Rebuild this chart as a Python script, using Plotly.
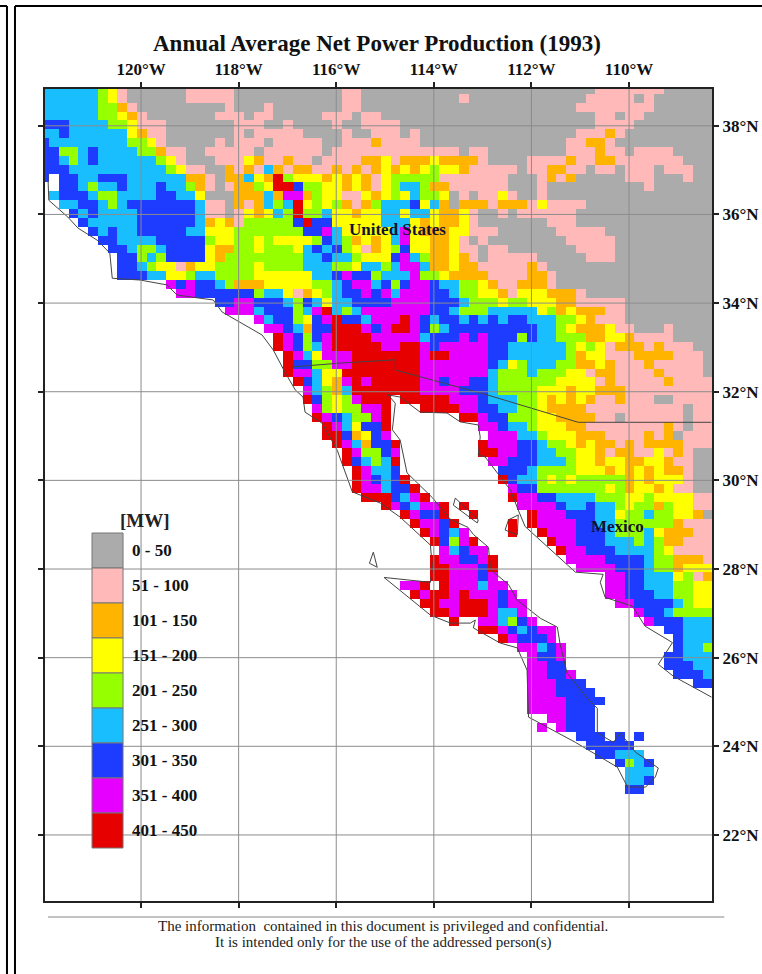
import plotly.graph_objects as go

# Power classes
class_labels = ["0 - 50", "51 - 100", "101 - 150", "151 - 200", "201 - 250",
                "251 - 300", "301 - 350", "351 - 400", "401 - 450"]
class_colors = ["#ABABAB", "#FFB9B9", "#FFB400", "#FFFF00", "#96FF00",
                "#19BEFF", "#1E3CFF", "#E600FF", "#E60000"]

# Each row: class:last column of that run ('.' = no data)
grid_rows = """
5:5 4:6 3:7 1:8 0:14 1:19 0:30 1:32 0:56 1:63 0:68
5:5 4:6 3:7 1:8 0:14 1:19 0:30 1:32 0:42 1:43 0:55 1:60 0:61 1:62 0:68
5:5 4:7 2:8 1:9 0:18 1:19 0:22 1:23 0:30 1:32 0:54 1:62 0:68
5:5 4:7 3:8 2:9 1:10 0:17 1:20 0:21 1:23 0:28 1:31 0:32 1:34 0:56 1:58 0:59 1:61 0:68
6:2 5:6 4:8 3:9 1:12 0:19 1:22 0:24 1:25 0:29 1:30 0:32 1:36 0:56 1:60 0:68
5:1 6:2 5:8 3:9 2:10 1:12 0:19 1:20 0:21 1:26 0:30 1:31 0:33 1:36 0:37 1:38 0:54 1:57 2:58 1:59 0:68
6:0 5:8 4:10 3:11 1:12 0:17 1:18 0:19 1:22 0:23 1:28 0:30 1:33 2:34 1:38 0:53 1:55 2:57 1:58 0:68
6:1 4:3 5:4 6:5 5:9 4:11 2:12 1:14 0:16 1:21 0:22 1:28 0:29 1:42 0:43 1:45 0:53 1:56 2:57 1:59 0:60 1:64 0:68
6:1 5:2 4:3 5:4 6:5 5:11 4:12 3:13 1:14 0:17 1:20 3:21 2:22 1:24 2:25 1:27 0:28 1:32 2:34 3:35 1:36 2:39 3:40 2:44 1:45 0:49 1:53 2:54 1:56 2:58 1:65 0:68
6:2 5:12 4:13 3:14 1:16 0:18 2:19 1:20 2:21 1:22 5:23 2:24 1:25 2:27 1:29 2:30 1:31 2:32 1:33 2:34 3:35 2:36 3:37 2:38 3:39 4:40 3:42 2:43 1:48 0:49 1:51 2:53 1:55 0:56 1:58 0:59 1:62 0:63 1:66 0:68
6:0 .:1 6:3 5:5 6:8 5:14 2:16 1:17 0:18 2:20 5:21 3:22 2:23 8:24 4:25 3:28 2:29 3:30 2:31 3:32 2:33 1:34 3:35 4:40 1:47 0:50 1:51 2:52 1:53 2:54 0:59 1:62 0:65 1:66 0:68
.:1 6:3 5:4 4:5 5:7 6:8 5:11 6:12 5:14 4:15 2:16 1:17 0:18 1:19 2:21 4:22 3:23 8:25 6:26 4:28 3:30 2:31 3:32 2:33 1:34 3:35 4:36 5:38 4:39 2:41 1:47 0:50 1:51 0:61 1:62 0:68
.:0 5:1 6:4 5:5 4:7 5:11 6:13 5:15 3:16 0:19 2:22 5:23 2:24 7:26 2:27 4:28 3:30 1:32 3:33 2:34 3:35 4:36 3:37 5:38 4:40 3:41 0:42 1:43 0:44 1:46 3:47 1:48 0:50 1:51 0:68
.:1 5:3 6:5 5:6 4:7 5:8 6:15 5:16 1:18 0:19 2:20 1:21 2:22 5:23 4:24 5:25 8:26 3:27 4:28 3:29 4:30 2:31 1:32 2:33 4:34 5:37 6:38 3:39 5:40 2:41 0:42 2:45 1:46 2:49 1:50 3:51 1:55 0:68
.:2 6:3 5:4 6:5 5:9 6:15 5:16 1:18 0:19 1:20 3:21 2:22 3:23 5:24 4:25 8:26 4:28 5:29 3:31 2:32 3:34 5:36 3:37 5:39 3:40 2:42 3:43 1:44 0:46 1:47 0:48 1:54 0:68
.:3 6:4 5:9 6:15 5:16 2:17 3:18 2:19 1:20 4:25 6:26 8:27 6:29 3:34 5:37 3:38 2:39 3:40 2:42 3:43 1:44 0:51 1:54 0:68
.:4 6:5 5:6 6:7 5:9 6:14 5:16 3:19 4:26 6:28 7:29 5:30 3:35 5:36 7:37 3:38 2:41 3:43 1:46 0:52 1:57 0:68
.:5 6:7 5:11 6:16 4:17 3:19 4:21 3:22 4:23 3:27 4:28 6:29 5:30 4:31 2:32 3:33 2:34 3:35 5:36 7:37 3:39 2:41 3:42 1:43 0:44 1:45 0:53 1:58 0:68
.:6 6:8 5:9 4:11 5:12 6:16 3:17 2:19 4:21 3:22 4:25 3:26 5:27 6:28 5:29 6:30 4:31 3:32 1:33 2:34 3:35 4:36 6:37 3:39 2:41 3:42 1:44 0:45 1:47 0:54 1:58 0:68
.:7 6:9 4:10 5:11 4:12 6:16 3:17 2:18 4:26 5:28 6:29 5:31 4:32 3:35 6:36 7:37 5:38 4:39 2:41 3:42 2:43 1:44 0:45 1:50 0:55 1:58 0:68
.:7 6:9 5:10 4:11 3:13 1:14 2:15 3:17 4:21 3:22 4:26 5:29 4:31 3:32 5:34 4:35 5:36 7:38 5:39 2:41 3:42 2:44 1:49 2:50 1:51 0:68
.:7 6:10 5:12 3:14 4:15 5:17 4:21 3:27 5:29 6:30 7:31 6:33 4:34 5:37 7:38 4:40 3:41 2:45 1:49 2:51 1:52 0:68
.:12 7:13 6:14 7:15 6:17 5:18 4:19 2:22 3:27 4:29 5:30 6:31 7:33 5:34 6:35 4:36 6:37 7:39 6:40 5:42 4:44 3:45 2:46 1:48 2:51 1:52 0:68
.:13 7:15 6:21 4:22 5:24 3:25 1:26 2:27 3:28 4:29 5:30 6:32 7:33 6:34 7:35 5:36 7:39 6:41 5:42 4:44 3:46 2:47 1:48 3:51 2:54 1:55 0:68
.:17 6:19 7:21 6:24 5:25 4:26 6:27 5:28 3:29 5:31 6:35 7:39 6:42 5:43 4:46 3:47 4:49 3:52 2:54 1:59 0:68
.:18 7:21 5:22 6:25 4:26 5:27 7:28 8:29 5:30 4:31 5:32 7:39 6:41 5:42 4:45 5:50 3:51 4:52 2:53 3:54 2:57 1:59 0:68
.:21 7:22 5:23 6:25 4:26 3:27 6:28 7:29 8:30 6:32 5:33 7:36 8:37 7:38 6:39 5:40 6:42 5:43 6:44 5:45 6:46 5:47 6:49 5:52 4:54 3:55 2:56 1:59 0:68
.:22 7:24 6:25 5:26 2:27 6:29 8:32 7:33 6:34 7:35 8:37 7:38 6:39 4:40 5:41 6:50 5:52 4:53 3:54 2:57 3:58 1:60 0:63 1:64 0:68
.:23 8:24 7:25 6:26 4:27 6:28 7:29 8:33 7:38 5:39 6:42 7:43 6:44 7:45 6:48 4:49 6:50 5:52 4:55 2:57 3:59 2:60 1:64 0:68
.:23 8:24 7:25 6:26 4:27 5:28 7:29 8:34 7:36 8:38 7:39 6:40 7:45 6:47 5:53 4:54 3:55 4:56 3:57 1:58 2:61 1:62 2:63 1:66 0:68
.:24 8:25 7:26 5:27 3:28 7:31 8:38 7:39 8:41 7:45 6:47 5:53 4:54 2:55 3:57 1:60 2:64 1:67 0:68
.:24 8:25 6:27 4:29 7:31 8:38 7:45 6:46 5:47 3:48 4:49 5:52 4:54 2:56 3:57 2:58 1:61 2:62 1:67 0:68
.:24 8:25 7:27 5:28 3:30 8:38 7:45 5:46 4:49 5:50 4:53 3:55 1:56 2:58 1:62 2:63 1:67 0:68
.:25 8:26 6:27 5:28 3:29 2:30 7:31 8:32 7:33 8:38 7:40 6:41 7:43 6:45 5:46 4:52 3:56 1:57 2:58 1:63 2:64 1:68
.:26 7:27 5:28 4:29 2:30 5:31 8:38 7:42 6:45 5:46 4:50 3:53 2:54 3:56 2:59 1:68
.:26 8:27 6:28 4:29 3:30 4:31 7:32 8:35 .:36 8:41 7:44 6:45 5:48 4:50 3:51 2:52 3:53 2:54 3:55 2:56 1:58 2:59 1:62 0:64 1:68
.:27 7:28 4:29 3:30 4:32 7:34 8:35 .:38 8:42 7:44 6:46 5:48 4:50 3:51 2:55 1:65 0:66 1:68
.:27 8:28 7:29 6:30 5:31 4:33 7:34 8:35 .:42 8:44 7:45 6:47 4:50 3:52 2:56 1:58 0:59 1:65 0:66 1:68
.:28 8:29 7:30 5:31 3:32 6:34 8:35 .:44 7:46 6:47 5:49 4:50 3:53 2:55 1:63 2:64 1:65 0:66 1:68
.:28 8:30 6:31 2:32 3:33 6:34 7:35 .:45 7:48 5:50 4:51 3:54 2:57 1:61 2:62 1:63 2:64 0:65 1:68
.:29 8:30 7:31 5:32 2:33 6:35 8:36 .:44 8:45 7:48 6:50 5:51 4:53 3:54 2:55 3:56 2:58 1:59 2:60 1:61 2:65 1:68
.:30 8:31 7:32 4:34 6:35 7:36 .:44 8:46 7:48 6:50 5:52 4:54 3:56 2:57 1:58 2:60 1:62 3:63 1:64 2:65 1:66 0:68
.:30 8:31 6:32 5:33 4:34 5:35 8:36 .:45 7:47 6:50 5:53 4:54 3:56 2:57 3:59 2:61 3:63 2:64 1:66 0:68
.:31 8:32 7:33 5:35 6:36 .:46 6:49 5:50 4:54 3:57 2:58 3:59 2:60 3:61 2:62 3:63 2:65 1:66 0:68
.:31 8:32 7:33 6:34 5:35 6:36 8:37 .:46 8:47 6:48 5:50 4:51 3:52 4:53 3:54 4:59 2:60 3:61 2:62 3:65 1:66 0:68
.:31 8:32 7:34 5:35 6:37 8:38 .:47 7:48 6:50 4:57 3:58 4:59 2:60 3:62 2:63 3:64 1:66 0:68
.:32 8:35 6:36 5:37 7:38 8:39 .:47 8:48 7:50 6:52 5:56 4:59 3:61 4:62 3:66 1:68
.:34 8:35 7:36 6:37 5:38 7:40 8:41 .:42 8:43 .:48 7:52 6:53 5:55 6:56 5:58 4:59 3:60 4:62 2:63 4:64 3:66 1:68
.:36 8:37 7:38 6:40 8:41 .:43 8:44 .:49 8:50 7:53 6:56 5:58 3:59 4:61 5:62 4:64 3:66 2:67 0:68
.:37 8:38 7:40 6:41 8:42 .:47 8:48 .:49 8:50 7:54 6:56 5:58 4:64 2:65 1:68
.:38 8:39 7:40 6:41 5:42 7:43 .:47 8:48 .:50 8:51 7:54 6:57 5:58 4:61 5:62 3:63 2:66 1:68
.:39 8:40 6:41 4:42 7:43 8:44 .:51 8:52 7:54 6:57 5:60 4:61 5:62 4:63 2:65 1:68
.:40 7:41 5:42 6:43 7:45 .:52 8:53 7:55 6:58 5:62 4:63 3:64 1:68
.:39 8:40 7:42 6:44 7:45 8:46 .:53 7:57 6:61 5:62 4:64 2:67 1:68
.:39 8:41 7:44 6:45 8:46 .:54 7:58 6:61 5:62 4:64 2:65 3:68
.:39 8:41 7:44 6:45 7:46 .:57 7:59 6:61 5:64 3:65 4:66 1:67 2:68
.:36 7:38 8:39 .:40 8:41 7:44 5:45 7:47 .:57 7:59 6:61 5:64 4:66 3:68
.:37 8:38 7:39 8:41 7:42 8:43 7:46 6:47 7:48 .:57 7:59 6:62 5:64 4:66 3:68
.:38 8:40 7:42 8:45 7:46 6:47 7:49 .:58 7:60 6:64 5:65 4:66 3:68
.:39 8:41 7:42 8:45 7:46 5:48 7:49 .:60 7:61 6:63 5:64 4:68
.:41 8:42 .:44 7:46 5:47 4:48 6:49 7:50 .:61 7:62 6:65 5:68
.:44 8:46 7:47 6:48 5:49 6:50 7:52 .:63 6:65 5:68
.:46 8:47 7:48 6:51 7:52 .:64 6:65 5:68
.:48 7:50 5:51 6:52 7:53 .:64 6:65 5:67 4:68
.:49 7:50 6:52 7:53 .:63 6:65 5:68
.:49 7:51 6:53 .:63 6:66 5:68
.:49 7:51 6:53 7:54 .:64 6:67 5:68
.:49 7:52 6:55 .:66 6:68
.:49 7:52 6:56
.:49 7:53 6:57
.:49 7:53 6:56
.:51 7:53 6:56
.:50 7:51 .:52 7:53 6:56
.:54 6:57 .:58 6:59 .:60 6:61
.:55 6:60
.:56 6:58 5:61
.:58 6:59 4:60 5:61 6:62
.:59 5:62
.:59 5:61 6:62
.:59 6:61
""".strip().splitlines()

coast_lon = [-121.91,-121.89,-121.50,-121.29,-120.90,-120.64,-120.59,-120.02,-119.47,-119.26,-118.52,-118.34,
             -117.52,-117.29,-117.05,-116.84,-116.68,-116.64,-116.29,-115.98,-115.67,-115.10,-114.69,-114.07,
             -114.03,-114.07,-115.02,-114.65,-114.07,-113.66,-113.25,-113.15,-113.19,-112.64,-112.29,-112.09,
             -112.06,-111.10,-110.24,-110.03,-109.66,-109.46,-109.40,-109.87,-110.18,-110.32,-110.65,-110.65,
             -110.83,-111.27,-111.41,-111.47,-111.82,-112.29,-112.47,-112.84,-112.88,-113.19,-113.30,-113.66,
             -114.03,-114.55,-114.69,-114.85,-114.79,-114.94,-114.69,-114.28,-113.73,-113.46,-113.09,-113.05,
             -113.09,-112.95,-112.70,-112.43,-112.27,-112.13,-111.10,-110.53,-110.59,-110.49,-109.93,-109.67,
             -109.11,-109.40,-109.09,-108.31]
coast_lat = [36.93,36.32,35.94,35.69,35.42,35.13,34.56,34.52,34.41,34.18,34.07,33.80,
             33.28,32.94,32.44,32.04,31.88,31.54,31.29,30.68,29.74,29.49,29.17,28.54,
             28.02,27.70,27.81,27.48,26.96,26.78,26.78,26.85,26.67,26.33,26.22,25.72,
             24.66,24.09,23.53,23.08,23.08,23.31,23.51,23.87,24.30,24.09,24.30,24.86,
             25.05,25.65,26.29,26.69,26.89,27.30,27.65,27.99,28.49,28.78,28.94,29.12,
             29.61,30.17,30.91,31.14,31.74,31.93,31.88,31.54,31.52,31.32,31.25,30.98,
             30.57,30.53,30.17,29.78,29.33,28.96,27.93,27.88,27.70,27.36,27.16,26.71,
             26.34,25.85,25.58,25.11]
border_lon = [-116.90,-115.86,-114.79,-114.79,-112.91,-111.04,-108.31]
border_lat = [32.56,32.65,32.72,32.49,31.93,31.31,31.31]
island_lons = [[-112.27,-112.47,-112.54,-112.29,-112.27],
               [-113.56,-113.60,-113.11,-113.09,-113.56],
               [-115.32,-115.24,-115.16,-115.32]]
island_lats = [[29.22,29.11,28.88,28.77,29.22],
               [29.60,29.44,29.04,29.11,29.60],
               [28.13,28.38,28.04,28.13]]

lon_ticks = [-120, -118, -116, -114, -112, -110]
lon_labels = ["120°W", "118°W", "116°W", "114°W", "112°W", "110°W"]
lat_ticks = [38, 36, 34, 32, 30, 28, 26, 24, 22]
lat_labels = ["38°N", "36°N", "34°N", "32°N", "30°N", "28°N", "26°N", "24°N", "22°N"]

title_text = "Annual Average Net Power Production (1993)"
footer_lines = ["The information  contained in this document is privileged and confidential.",
                "It is intended only for the use of the addressed person(s)"]

# ---------------------------------------------------------------- decode grid
N_COLS = 69
z = []
for line in grid_rows:
    row = [None] * N_COLS
    start = 0
    for tok in line.split():
        cls, last = tok.split(":")
        last = int(last)
        for c in range(start, last + 1):
            row[c] = None if cls == "." else int(cls)
        start = last + 1
    z.append(row)

W, H = 762, 974
L, R, T, B = 45, 711.7, 89, 901
LON_MIN, LON_MAX = -121.968, -108.30
LAT_MAX, LAT_MIN = 38.83, 20.51
CELL = 0.2
lon0 = LON_MIN + (39.4 + 4.875 - L) / 48.77
lat0 = LAT_MAX - (85 + 4.435 - T) / 44.33

def px(x):
    return (x - L) / (R - L)
def py(y):
    return (B - y) / (B - T)

n = len(class_colors)
colorscale = []
for i, c in enumerate(class_colors):
    colorscale += [[i / n, c], [(i + 1) / n, c]]

fig = go.Figure()
fig.add_trace(go.Heatmap(z=z, x0=lon0, dx=CELL, y0=lat0, dy=-CELL,
                         colorscale=colorscale, zmin=-0.5, zmax=n - 0.5,
                         showscale=False, hoverongaps=False))
line_style = dict(color="#444444", width=1)
for xs, ys in [(coast_lon, coast_lat), (border_lon, border_lat)] + list(zip(island_lons, island_lats)):
    fig.add_trace(go.Scatter(x=xs, y=ys, mode="lines", line=line_style, showlegend=False, hoverinfo="skip"))

shapes = []
GRID = dict(color="#8c8c8c", width=1)
for lon in lon_ticks:
    shapes.append(dict(type="line", xref="x", yref="paper", x0=lon, x1=lon, y0=0, y1=1, line=GRID, layer="above"))
for lat in lat_ticks:
    shapes.append(dict(type="line", xref="paper", yref="y", x0=0, x1=1, y0=lat, y1=lat, line=GRID, layer="above"))

# legend swatches and labels
annotations = []
SW_TOP, SW_H = 533, 35
for i, (lab, col) in enumerate(zip(class_labels, class_colors)):
    y0 = SW_TOP + i * SW_H
    shapes.append(dict(type="rect", xref="paper", yref="paper", x0=px(92), x1=px(123), y0=py(y0), y1=py(y0 + SW_H),
                       fillcolor=col, line=dict(color="#777777", width=1), layer="above"))
    annotations.append(dict(xref="paper", yref="paper", x=px(129.5), y=py(y0 + 17.5), text=f"<b>{lab}</b>",
                            showarrow=False, xanchor="left", yanchor="middle",
                            font=dict(family="Liberation Serif", size=17, color="#111111")))
annotations.append(dict(xref="paper", yref="paper", x=px(145), y=py(520), text="<b>[MW]</b>", showarrow=False,
                        xanchor="center", yanchor="middle", font=dict(family="Liberation Serif", size=19, color="#222222")))

# place names
annotations.append(dict(x=-114.75, y=35.65, text="<b>United States</b>", showarrow=False, xanchor="center", yanchor="middle",
                        font=dict(family="Liberation Serif", size=17, color="#111133")))
annotations.append(dict(x=-110.24, y=28.97, text="<b>Mexico</b>", showarrow=False, xanchor="center", yanchor="middle",
                        font=dict(family="Liberation Serif", size=17, color="#111133")))

# title and footer
annotations.append(dict(xref="paper", yref="paper", x=px(376.5), y=py(44), text=f"<b>{title_text}</b>", showarrow=False,
                        xanchor="center", yanchor="middle",
                        font=dict(family="Liberation Serif", size=23, color="#111111")))
for yy, t in zip((926, 942), footer_lines):
    annotations.append(dict(xref="paper", yref="paper", x=px(383), y=py(yy), text=t, showarrow=False,
                            xanchor="center", yanchor="middle",
                            font=dict(family="Liberation Serif", size=15, color="#222222")))

# footer rule and page frame
shapes.append(dict(type="line", xref="paper", yref="paper", x0=px(48), x1=px(724), y0=py(917), y1=py(917),
                   line=dict(color="#888888", width=1)))
FRAME = dict(color="#000000", width=2)
shapes += [
    dict(type="line", xref="paper", yref="paper", x0=px(7), x1=px(7), y0=py(6), y1=py(974), line=FRAME),
    dict(type="line", xref="paper", yref="paper", x0=px(15), x1=px(15), y0=py(6), y1=py(974), line=FRAME),
    dict(type="line", xref="paper", yref="paper", x0=px(15), x1=px(762), y0=py(6), y1=py(6), line=FRAME),
    dict(type="line", xref="paper", yref="paper", x0=px(0), x1=px(7), y0=py(6), y1=py(6), line=FRAME),
]

tick_font = dict(family="Liberation Serif", size=17, color="#111111")
fig.update_layout(
    width=W, height=H, margin=dict(l=L, r=W - R, t=T, b=H - B, pad=0, autoexpand=False),
    paper_bgcolor="white", plot_bgcolor="white", showlegend=False,
    shapes=shapes, annotations=annotations,
    xaxis=dict(range=[LON_MIN, LON_MAX], side="top", tickmode="array", tickvals=lon_ticks,
               ticktext=[f"<b>{t}</b>" for t in lon_labels], ticks="outside", ticklen=5, tickwidth=1.5,
               tickcolor="#222222", showline=True, linecolor="#222222", linewidth=2, mirror="ticks",
               showgrid=False, zeroline=False, tickfont=tick_font),
    yaxis=dict(range=[LAT_MIN, LAT_MAX], side="right", tickmode="array", tickvals=lat_ticks,
               ticktext=[f"<b>{t}</b>" for t in lat_labels], ticks="outside", ticklen=5, tickwidth=1.5,
               tickcolor="#222222", showline=True, linecolor="#222222", linewidth=2, mirror="ticks",
               showgrid=False, zeroline=False, tickfont=tick_font),
)
fig.write_html("out.html", config={"displayModeBar": False},
               post_script="document.body.style.margin='0';")
